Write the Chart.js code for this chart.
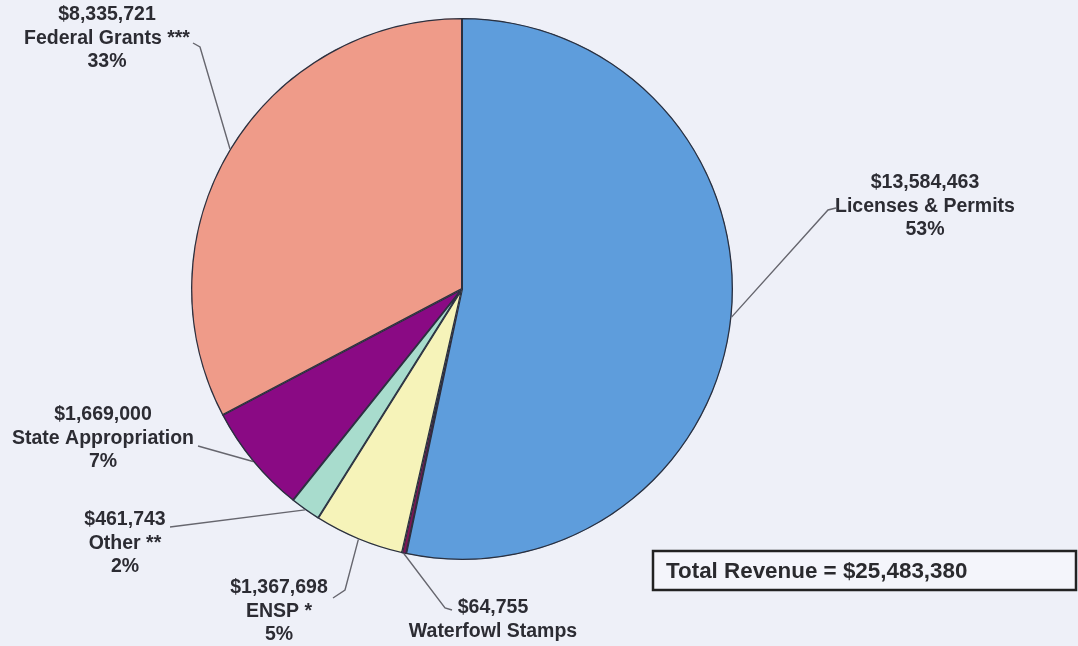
<!DOCTYPE html>
<html>
<head>
<meta charset="utf-8">
<script src="https://cdn.jsdelivr.net/npm/chart.js@4.4.1/dist/chart.umd.min.js"></script>
<style>
html,body{margin:0;padding:0;background:#eef0f8;}
#wrap{width:1078px;height:646px;position:relative;}
</style>
</head>
<body>
<div id="wrap"><canvas id="c" width="1078" height="646"></canvas></div>
<script>
const categories = ["Licenses & Permits","Waterfowl Stamps","ENSP *","Other **","State Appropriation","Federal Grants ***"];
const amounts = [13584463, 64755, 1367698, 461743, 1669000, 8335721];
const amountLabels = ["$13,584,463","$64,755","$1,367,698","$461,743","$1,669,000","$8,335,721"];
const percentLabels = ["53%","0%","5%","2%","7%","33%"];
const totalLabel = "Total Revenue = $25,483,380";
const colors = ["#5e9ddc","#7d1656","#f6f3b9","#a8dccd","#8a0a84","#ef9b89"];

// label placement: text centre x, first line y, and leader elbow points
const labelLayout = [
  {x:925, y:183, elbow:[[828,210],[836,208]]},
  {x:493, y:608, elbow:[[445,608],[452,610]]},
  {x:279, y:588, elbow:[[345,590],[333,598]]},
  {x:125, y:520, elbow:[[170,527]]},
  {x:103, y:415, elbow:[[198,446]]},
  {x:107, y:15, elbow:[[200,47],[193,43]]}
];

const labelPlugin = {
  id:'labels',
  afterDatasetsDraw(chart){
    const ctx = chart.ctx;
    const meta = chart.getDatasetMeta(0);
    ctx.save();
    ctx.font = 'bold 19.5px "Liberation Sans", Arial, sans-serif';
    ctx.fillStyle = '#2c2c33';
    ctx.textAlign = 'center';
    ctx.textBaseline = 'middle';
    meta.data.forEach((arc, i) => {
      const p = arc.getProps(['x','y','startAngle','endAngle','outerRadius'], true);
      const mid = (p.startAngle + p.endAngle) / 2;
      const sx = p.x + Math.cos(mid) * p.outerRadius;
      const sy = p.y + Math.sin(mid) * p.outerRadius;
      const L = labelLayout[i];
      ctx.strokeStyle = '#66666e';
      ctx.lineWidth = 1.4;
      ctx.beginPath();
      ctx.moveTo(sx, sy);
      L.elbow.forEach(pt => ctx.lineTo(pt[0], pt[1]));
      ctx.stroke();
      const lines = [amountLabels[i], categories[i], percentLabels[i]];
      lines.forEach((t, k) => ctx.fillText(t, L.x, L.y + k * 23.5));
    });
    // total box
    ctx.strokeStyle = '#222';
    ctx.lineWidth = 2.5;
    ctx.fillStyle = '#f4f5fb';
    ctx.fillRect(653, 551, 423, 39);
    ctx.strokeRect(653, 551, 423, 39);
    ctx.fillStyle = '#2a2a2e';
    ctx.textAlign = 'left';
    ctx.font = 'bold 22.4px "Liberation Sans", Arial, sans-serif';
    ctx.fillText(totalLabel, 666, 572);
    ctx.restore();
  }
};

new Chart(document.getElementById('c'), {
  type:'pie',
  data:{
    labels: categories,
    datasets:[{
      data: amounts,
      backgroundColor: colors,
      borderColor: '#2b3140',
      borderWidth: 1,
      borderAlign: 'inner'
    }]
  },
  options:{
    responsive:false,
    animation:false,
    layout:{padding:{left:191, right:345, top:18, bottom:86}},
    plugins:{legend:{display:false}, tooltip:{enabled:false}}
  },
  plugins:[labelPlugin]
});
</script>
</body>
</html>
